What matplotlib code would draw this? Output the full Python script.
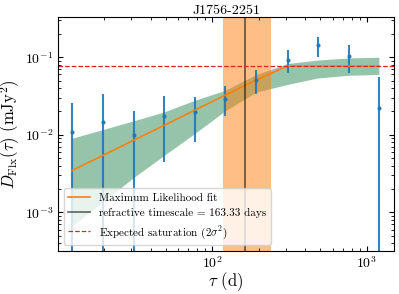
import numpy as np
import matplotlib
matplotlib.use('Agg')
import matplotlib.pyplot as plt

plt.rcParams['font.family'] = 'serif'
plt.rcParams['font.serif'] = ['cmr10', 'DejaVu Serif']
plt.rcParams['mathtext.fontset'] = 'cm'
plt.rcParams['axes.formatter.use_mathtext'] = True

# structure function points (lag in days)
tau = [12.3, 19.6, 31.2, 48.7, 77.6, 121, 193, 307, 481, 764, 1197]
dflx = [0.0109, 0.0146, 0.0100, 0.0174, 0.0197, 0.0293, 0.0515, 0.0915, 0.143, 0.103, 0.022]
err_hi = [0.026, 0.034, 0.020, 0.032, 0.031, 0.042, 0.068, 0.123, 0.183, 0.143, 0.0557]
err_lo = [0.0, 0.0, 0.0, 0.0044, 0.0081, 0.0174, 0.034, 0.0635, 0.101, 0.0635, 0.0]

# maximum likelihood model and its spread
ml_fit = [0.00344, 0.00542, 0.00855, 0.0132, 0.0209, 0.0324, 0.0511, 0.077, 0.077, 0.077, 0.077]
band_upper = [0.0090, 0.0117, 0.0152, 0.0197, 0.0280, 0.0374, 0.060, 0.083, 0.092, 0.098, 0.100]
band_lower = [0.00066, 0.00136, 0.00284, 0.0054, 0.0105, 0.0203, 0.0355, 0.0447, 0.054, 0.0585, 0.060]

saturation = 0.077
t_ref = 163.33
t_ref_lo, t_ref_hi = 118, 239

fig = plt.figure(figsize=(3.99, 2.94), dpi=100)
ax = fig.add_axes([0.1454, 0.1473, 0.8421, 0.7947])

y = np.array(dflx)
yerr = [y - np.array(err_lo), np.array(err_hi) - y]
ax.errorbar(tau, y, yerr=yerr, fmt='.', color='C0', ms=4, elinewidth=1.5, alpha=0.9)

ax.fill_between(tau, band_lower, band_upper, color='seagreen', alpha=0.5, lw=0)
ax.plot(tau, ml_fit, color='C1', lw=1.2, label='Maximum Likelihood fit')
ax.axvspan(t_ref_lo, t_ref_hi, color='C1', alpha=0.5, lw=0)
ax.axvline(t_ref, color='k', alpha=0.6, lw=1.2,
           label='refractive timescale = %.2f days' % t_ref)
ax.axhline(saturation, color='C3', ls='--', lw=0.9,
           label=r'Expected saturation ($2\sigma^2$)')

ax.set_xscale('log')
ax.set_yscale('log')
ax.set_xlim(10.05, 1500)
ax.set_ylim(3.2e-4, 0.33)
ax.tick_params(which='both', direction='in', top=True, right=True, labelsize=10)

ax.set_xlabel(r'$\tau$ (d)', fontsize=12)
ax.set_ylabel(r'$D_{\rm Flx}(\tau)$ (mJy$^2$)', fontsize=12)
ax.xaxis.set_label_coords(0.5, -0.085)
ax.yaxis.set_label_coords(-0.107, 0.5)
ax.set_title('J1756-2251', fontsize=10, pad=2)
ax.legend(loc='lower left', fontsize=8)

plt.savefig('out.png', dpi=100)
